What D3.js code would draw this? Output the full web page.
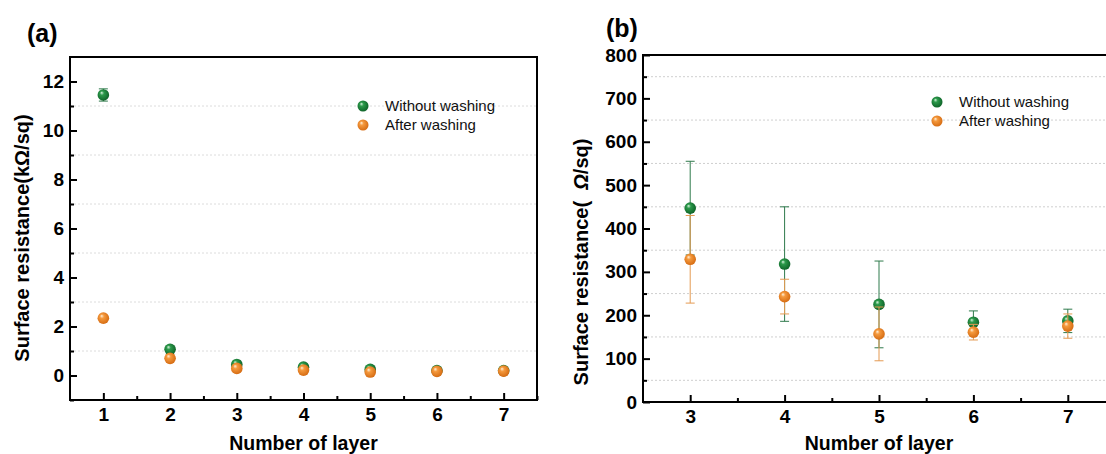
<!DOCTYPE html>
<meta charset="utf-8">
<script src="https://d3js.org/d3.v7.min.js"></script>
<style>
  body { margin: 0; background: #fff; }
  text { font-family: Arial, "Liberation Sans", sans-serif; }
</style>
<div id="chart"></div>
<script>
// panel (a): layers 1-7, kOhm/sq
var layersA = [1, 2, 3, 4, 5, 6, 7];
var withoutA = [11.45, 1.07, 0.45, 0.34, 0.25, 0.2, 0.2];
var withoutErrA = [0.25, 0.08, 0.06, 0.05, 0.05, 0.03, 0.03];
var afterA = [2.34, 0.70, 0.29, 0.22, 0.14, 0.17, 0.18];
var afterErrA = [0.08, 0.06, 0.05, 0.04, 0.04, 0.03, 0.03];
var yTicksA = [0, 2, 4, 6, 8, 10, 12];
var yMinorA = [-1, 1, 3, 5, 7, 9, 11];

// panel (b): layers 3-7, Ohm/sq
var layersB = [3, 4, 5, 6, 7];
var withoutB = [447, 318, 225, 184, 187];
var withoutErrB = [108, 132, 100, 26, 27];
var afterB = [329, 243, 157, 161, 175];
var afterErrB = [101, 40, 62, 18, 28];
var yTicksB = [0, 100, 200, 300, 400, 500, 600, 700, 800];
var yMinorB = [50, 150, 250, 350, 450, 550, 650, 750];

var seriesNames = ["Without washing", "After washing"];

var svg = d3.select("#chart").append("svg")
  .attr("width", 1106)
  .attr("height", 454);

// sphere-like gradients for the markers
var defs = svg.append("defs");
function sphere(id, light, mid, dark) {
  var g = defs.append("radialGradient").attr("id", id)
    .attr("cx", "45%").attr("cy", "45%").attr("r", "60%")
    .attr("fx", "35%").attr("fy", "30%");
  g.append("stop").attr("offset", "0%").attr("stop-color", light);
  g.append("stop").attr("offset", "30%").attr("stop-color", mid);
  g.append("stop").attr("offset", "100%").attr("stop-color", dark);
}
sphere("gGreen", "#d8f3de", "#2c9a4b", "#0c5f26");
sphere("gOrange", "#fff1dc", "#f59a3e", "#d3680f");

var colors = {
  green: { fill: "url(#gGreen)", err: "#2f7a4c" },
  orange: { fill: "url(#gOrange)", err: "#e49a52" }
};

function panel(opt) {
  var g = svg.append("g");
  var x = d3.scaleLinear().domain(opt.xDomain).range([opt.left, opt.right]);
  var y = d3.scaleLinear().domain(opt.yDomain).range([opt.bottom, opt.top]);

  // dotted gridlines at minor ticks
  g.append("g").selectAll("line")
    .data(opt.yMinor.filter(function(d) { return d > opt.yDomain[0]; }))
    .enter().append("line")
      .attr("x1", opt.left).attr("x2", opt.right)
      .attr("y1", function(d) { return y(d); })
      .attr("y2", function(d) { return y(d); })
      .attr("stroke", opt.gridColor)
      .attr("stroke-width", 1)
      .attr("stroke-dasharray", "2,2");

  // axes with inward ticks
  g.append("g")
    .attr("transform", "translate(" + opt.left + ",0)")
    .call(d3.axisLeft(y).tickValues(opt.yTicks).tickSize(-7).tickPadding(6));
  g.append("g")
    .attr("transform", "translate(" + opt.left + ",0)")
    .call(d3.axisLeft(y).tickValues(opt.yMinor).tickSize(-4).tickFormat(""));
  g.append("g")
    .attr("transform", "translate(0," + opt.bottom + ")")
    .call(d3.axisBottom(x).tickValues(opt.layers).tickSize(-7).tickPadding(8).tickFormat(d3.format("d")));
  g.append("g")
    .attr("transform", "translate(0," + opt.bottom + ")")
    .call(d3.axisBottom(x).tickValues(opt.layers.map(function(d) { return d + 0.5; })).tickSize(-4).tickFormat(""));

  g.selectAll(".domain").remove();
  g.selectAll(".tick line").attr("stroke", "#000").attr("stroke-width", 2);
  g.selectAll(".tick text")
    .attr("fill", "#000")
    .style("font-size", "19px")
    .style("font-weight", "bold");

  // frame
  g.append("rect")
    .attr("x", opt.left).attr("y", opt.top)
    .attr("width", opt.right - opt.left)
    .attr("height", opt.bottom - opt.top)
    .attr("fill", "none")
    .attr("stroke", "#000")
    .attr("stroke-width", 2);

  // error bars and markers
  function drawSeries(vals, errs, c) {
    var s = g.append("g");
    var eb = s.selectAll("g.err").data(opt.layers).enter().append("g");
    eb.append("line")
      .attr("x1", function(d) { return x(d); })
      .attr("x2", function(d) { return x(d); })
      .attr("y1", function(d, i) { return y(vals[i] - errs[i]); })
      .attr("y2", function(d, i) { return y(vals[i] + errs[i]); });
    eb.append("line")
      .attr("x1", function(d) { return x(d) - 4.5; })
      .attr("x2", function(d) { return x(d) + 4.5; })
      .attr("y1", function(d, i) { return y(vals[i] + errs[i]); })
      .attr("y2", function(d, i) { return y(vals[i] + errs[i]); });
    eb.append("line")
      .attr("x1", function(d) { return x(d) - 4.5; })
      .attr("x2", function(d) { return x(d) + 4.5; })
      .attr("y1", function(d, i) { return y(vals[i] - errs[i]); })
      .attr("y2", function(d, i) { return y(vals[i] - errs[i]); });
    eb.selectAll("line").attr("stroke", c.err).attr("stroke-width", 1);
    s.selectAll("circle").data(opt.layers).enter().append("circle")
      .attr("cx", function(d) { return x(d); })
      .attr("cy", function(d, i) { return y(vals[i]); })
      .attr("r", 5.8)
      .attr("fill", c.fill);
  }
  drawSeries(opt.without, opt.withoutErr, colors.green);
  drawSeries(opt.after, opt.afterErr, colors.orange);

  // legend
  var lg = g.append("g");
  [colors.green, colors.orange].forEach(function(c, i) {
    lg.append("circle")
      .attr("cx", opt.legX).attr("cy", opt.legY + i * 19)
      .attr("r", 5.5).attr("fill", c.fill);
    lg.append("text")
      .attr("x", opt.legX + 22).attr("y", opt.legY + i * 19 + 5)
      .style("font-size", "15px")
      .attr("fill", "#111")
      .text(seriesNames[i]);
  });

  // axis titles
  g.append("text")
    .attr("x", (opt.left + opt.right) / 2)
    .attr("y", 450)
    .attr("text-anchor", "middle")
    .style("font-size", "19.5px")
    .style("font-weight", "bold")
    .text("Number of layer");

  var yt = g.append("text")
    .attr("transform", "translate(" + opt.yTitleX + "," + opt.yTitleY + ") rotate(-90)")
    .attr("text-anchor", "middle")
    .style("font-size", "20px")
    .style("font-weight", "bold");
  opt.yTitle(yt);

  g.append("text")
    .attr("x", opt.tagX).attr("y", opt.tagY)
    .style("font-size", "25px")
    .style("font-weight", "bold")
    .text(opt.tag);
}

panel({
  left: 70, right: 537, top: 57, bottom: 400,
  xDomain: [0.5, 7.5], yDomain: [-1, 13],
  layers: layersA, yTicks: yTicksA, yMinor: yMinorA,
  without: withoutA, withoutErr: withoutErrA,
  after: afterA, afterErr: afterErrA,
  gridColor: "#dcdcdc",
  legX: 363, legY: 106,
  yTitleX: 29, yTitleY: 238,
  yTitle: function(t) { t.text("Surface resistance(k\u03A9/sq)"); },
  tag: "(a)", tagX: 27, tagY: 42
});

panel({
  left: 643, right: 1115, top: 55, bottom: 402,
  xDomain: [2.5, 7.5], yDomain: [0, 800],
  layers: layersB, yTicks: yTicksB, yMinor: yMinorB,
  without: withoutB, withoutErr: withoutErrB,
  after: afterB, afterErr: afterErrB,
  gridColor: "#cfcfcf",
  legX: 937, legY: 102,
  yTitleX: 588, yTitleY: 262,
  yTitle: function(t) {
    t.append("tspan").text("Surface resistance(\u00A0\u00A0");
    t.append("tspan").style("font-style", "italic").text("\u03A9");
    t.append("tspan").text("/sq)");
  },
  tag: "(b)", tagX: 606, tagY: 37
});
</script>
